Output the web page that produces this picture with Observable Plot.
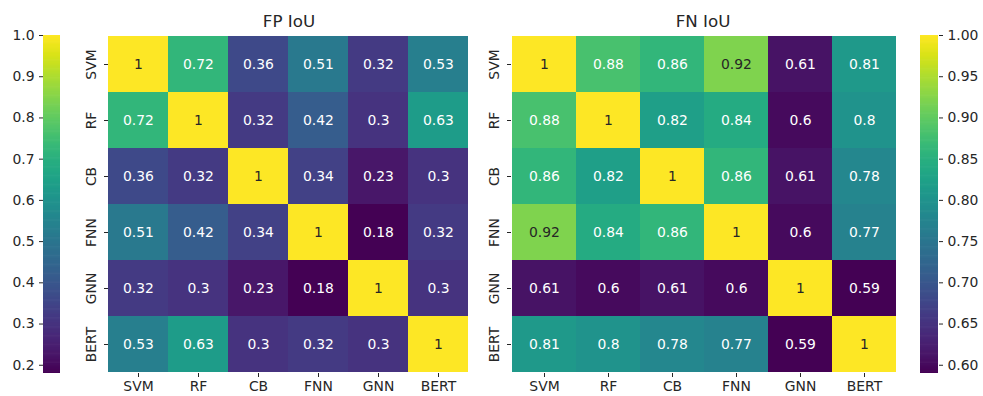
<!DOCTYPE html>
<html><head><meta charset="utf-8">
<script src="https://cdn.jsdelivr.net/npm/d3@7"></script>
<script src="https://cdn.jsdelivr.net/npm/@observablehq/plot@0.6"></script>
<style>
body{margin:0;background:#fff;}
#chart{position:relative;width:983px;height:396px;font-family:"DejaVu Sans";color:#262626;overflow:hidden;}
.panel{position:absolute;top:0;}
.title{position:absolute;top:11px;font-size:16.7px;line-height:20px;text-align:center;white-space:nowrap;}
</style></head><body><div id="chart"></div>
<script>
const models = ["SVM", "RF", "CB", "FNN", "GNN", "BERT"];
const fpIoU = [
  [1, 0.72, 0.36, 0.51, 0.32, 0.53],
  [0.72, 1, 0.32, 0.42, 0.3, 0.63],
  [0.36, 0.32, 1, 0.34, 0.23, 0.3],
  [0.51, 0.42, 0.34, 1, 0.18, 0.32],
  [0.32, 0.3, 0.23, 0.18, 1, 0.3],
  [0.53, 0.63, 0.3, 0.32, 0.3, 1]
];
const fnIoU = [
  [1, 0.88, 0.86, 0.92, 0.61, 0.81],
  [0.88, 1, 0.82, 0.84, 0.6, 0.8],
  [0.86, 0.82, 1, 0.86, 0.61, 0.78],
  [0.92, 0.84, 0.86, 1, 0.6, 0.77],
  [0.61, 0.6, 0.61, 0.6, 1, 0.59],
  [0.81, 0.8, 0.78, 0.77, 0.59, 1]
];
const titles = ["FP IoU", "FN IoU"];
const fpTicks = [0.2, 0.3, 0.4, 0.5, 0.6, 0.7, 0.8, 0.9, 1.0];
const fnTicks = [0.60, 0.65, 0.70, 0.75, 0.80, 0.85, 0.90, 0.95, 1.00];

const H = 396, MT = 35, MB = 23;
const FS = 13.9;
const baseStyle = {fontFamily: "DejaVu Sans", fontSize: FS + "px", color: "#262626", background: "transparent", overflow: "visible"};
const chart = document.getElementById("chart");

function place(node, left) {
  const d = document.createElement("div");
  d.className = "panel";
  d.style.left = left + "px";
  d.appendChild(node);
  chart.appendChild(d);
}

function toRows(matrix) {
  return matrix.flatMap((row, i) => row.map((v, j) => ({row: models[i], col: models[j], v})));
}

function heatmap(matrix, width, ml, mr) {
  const data = toRows(matrix);
  const [lo, hi] = d3.extent(data, d => d.v);
  const isLight = d => (d.v - lo) / (hi - lo) > 0.75;
  return Plot.plot({
    width, height: H, marginLeft: ml, marginRight: mr, marginTop: MT, marginBottom: MB,
    style: baseStyle,
    x: {domain: models, padding: 0, label: null},
    y: {domain: models, padding: 0, label: null},
    color: {type: "linear", scheme: "viridis", domain: [lo, hi]},
    marks: [
      Plot.cell(data, {x: "col", y: "row", fill: "v"}),
      Plot.text(data.filter(isLight), {x: "col", y: "row", text: d => String(d.v), fill: "#262626", fontSize: FS}),
      Plot.text(data.filter(d => !isLight(d)), {x: "col", y: "row", text: d => String(d.v), fill: "white", fontSize: FS}),
      Plot.axisX({tickSize: 4, tickPadding: 4, label: null}),
      Plot.axisY({tickSize: 4, tickRotate: -90, tickPadding: 9, label: null})
    ]
  });
}

function colorbar(matrix, ticks, fmt, anchor, width, ml, mr) {
  const domain = d3.extent(matrix.flat());
  const n = 300;
  const step = (domain[1] - domain[0]) / n;
  const stops = d3.range(n).map(i => domain[0] + step * i);
  return Plot.plot({
    width, height: H, marginLeft: ml, marginRight: mr, marginTop: MT, marginBottom: MB,
    style: baseStyle,
    x: {domain: [0, 1], axis: null},
    y: {domain, label: null},
    color: {type: "linear", scheme: "viridis", domain},
    marks: [
      Plot.rect(stops, {x1: 0, x2: 1, y1: d => d, y2: d => Math.min(domain[1], d + step * 1.6), fill: d => d + step / 2}),
      Plot.axisY({anchor, ticks, tickFormat: fmt, tickSize: 4, tickPadding: 5, label: null})
    ]
  });
}

place(colorbar(fpIoU, fpTicks, d3.format(".1f"), "left", 70, 43, 10), 0);
place(heatmap(fpIoU, 420, 48, 12), 60);
place(heatmap(fnIoU, 440, 51, 4), 460);
place(colorbar(fnIoU, fnTicks, d3.format(".2f"), "right", 83, 20, 45), 900);

function title(text, center) {
  const t = document.createElement("div");
  t.className = "title";
  t.textContent = text;
  t.style.left = (center - 100) + "px";
  t.style.width = "200px";
  chart.appendChild(t);
}
title(titles[0], 289);
title(titles[1], 703);
</script>
</body></html>
